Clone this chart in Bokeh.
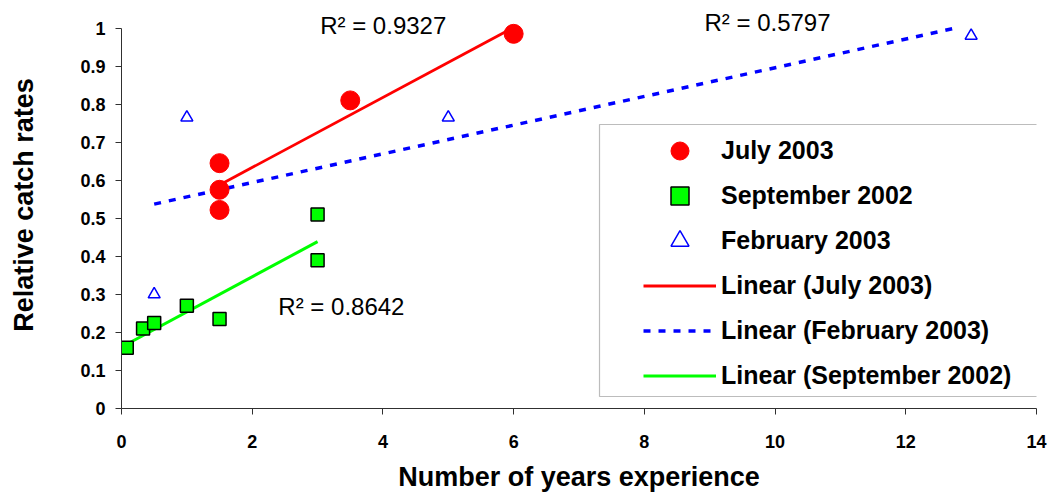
import numpy as np
from bokeh.plotting import figure
from bokeh.models import (Legend, LegendItem, Label, FixedTicker, BoxAnnotation,
                          Range1d, Node)
from bokeh.embed import file_html
from bokeh.resources import INLINE

# ---------------- data ----------------
july_x = [1.5, 1.5, 1.5, 3.5, 6.0]
july_y = [0.645, 0.575, 0.522, 0.81, 0.985]

sept_x = [0.08, 0.33, 0.5, 1.0, 1.5, 3.0, 3.0]
sept_y = [0.16, 0.21, 0.225, 0.27, 0.235, 0.39, 0.51]

feb_x = [0.5, 1.0, 5.0, 13.0]
feb_y = [0.30, 0.765, 0.765, 0.98]

r2_texts = ["R² = 0.9327", "R² = 0.5797", "R² = 0.8642"]
r2_x = [3.04, 8.92, 2.40]
r2_y = [1.008, 1.016, 0.268]

x_ticks = [0, 2, 4, 6, 8, 10, 12, 14]
x_tick_labels = ["0", "2", "4", "6", "8", "10", "12", "14"]
y_ticks = [0, 0.1, 0.2, 0.3, 0.4, 0.5, 0.6, 0.7, 0.8, 0.9, 1]
y_tick_labels = ["0", "0.1", "0.2", "0.3", "0.4", "0.5", "0.6", "0.7", "0.8", "0.9", "1"]

Y_MAX = 1.0  # value axis maximum (trendlines are cut there, as in the original)
FONT = "Liberation Sans"


def trend(xs, ys):
    k, b = np.polyfit(xs, ys, 1)
    x0, x1 = min(xs), max(xs)
    if k > 0 and k * x1 + b > Y_MAX:
        x1 = (Y_MAX - b) / k
    lx = [x0, x1]
    return lx, [k * v + b for v in lx]


p = figure(width=1050, height=494, x_range=Range1d(0, 14), y_range=Range1d(0, 1.07),
           output_backend="svg", toolbar_location=None,
           min_border_left=121, min_border_right=14, min_border_top=1,
           min_border_bottom=81)
p.outline_line_color = None
p.xgrid.visible = False
p.ygrid.visible = False
p.background_fill_color = "white"

for ax in (p.xaxis[0], p.yaxis[0]):
    ax.axis_line_color = "#303030"
    ax.major_tick_line_color = "#303030"
    ax.minor_tick_line_color = None
    ax.major_tick_out = 6
    ax.major_tick_in = 0
    ax.major_label_text_font = FONT
    ax.major_label_text_font_style = "bold"
    ax.major_label_text_font_size = "18px"
    ax.major_label_text_color = "black"
    ax.axis_label_text_font = FONT
    ax.axis_label_text_font_style = "bold"
    ax.axis_label_text_font_size = "27px"
    ax.axis_label_text_color = "black"

p.yaxis[0].bounds = (0, Y_MAX)
p.xaxis[0].ticker = FixedTicker(ticks=x_ticks)
p.xaxis[0].major_label_overrides = dict(zip(x_ticks, x_tick_labels))
p.yaxis[0].ticker = FixedTicker(ticks=y_ticks)
p.yaxis[0].major_label_overrides = dict(zip(y_ticks, y_tick_labels))
p.xaxis[0].axis_label = "Number of years experience"
p.yaxis[0].axis_label = "Relative catch rates"
p.xaxis[0].major_label_standoff = 20
p.yaxis[0].major_label_standoff = 10
p.xaxis[0].axis_label_standoff = 11
p.yaxis[0].axis_label_standoff = 38

# trend lines
jx, jy = trend(july_x, july_y)
fx, fy = trend(feb_x, feb_y)
sx, sy = trend(sept_x, sept_y)
l_july = p.line(jx, jy, line_color="#FF0000", line_width=2.8)
l_feb = p.line(fx, fy, line_color="#0000FF", line_width=3.5, line_dash="7 8")
l_sept = p.line(sx, sy, line_color="#00FF00", line_width=3)

# markers
r_july = p.scatter(july_x, july_y, marker="circle", size=19,
                   fill_color="#FF0000", line_color="#FF0000")
r_sept = p.scatter(sept_x, sept_y, marker="square", size=13,
                   fill_color="#00FF00", line_color="black", line_width=1.5)
r_feb = p.scatter(feb_x, feb_y, marker="triangle", size=12,
                  fill_color=None, line_color="#0000FF", line_width=1.5)

# R^2 labels
for t, x, y in zip(r2_texts, r2_x, r2_y):
    p.add_layout(Label(x=x, y=y, text=t, text_font=FONT, text_font_size="24px",
                       text_baseline="middle", text_color="black"))

# legend frame
frame_box = BoxAnnotation(
    left=Node(target="frame", symbol="left", offset=478),
    right=Node(target="frame", symbol="right", offset=30),
    top=Node(target="frame", symbol="top", offset=123),
    bottom=Node(target="frame", symbol="bottom", offset=-12),
    fill_color="white", fill_alpha=1.0, line_color="#202020", line_width=1.2)
p.add_layout(frame_box)

legend = Legend(items=[
    LegendItem(label="July 2003", renderers=[r_july]),
    LegendItem(label="September 2002", renderers=[r_sept]),
    LegendItem(label="February 2003", renderers=[r_feb]),
    LegendItem(label="Linear (July 2003)", renderers=[l_july]),
    LegendItem(label="Linear (February 2003)", renderers=[l_feb]),
    LegendItem(label="Linear (September 2002)", renderers=[l_sept]),
], location=(520, 8), padding=2, margin=0, spacing=0,
    glyph_width=73, glyph_height=45, label_height=45, label_standoff=5,
    border_line_alpha=0, background_fill_alpha=0,
    label_text_font=FONT, label_text_font_style="bold",
    label_text_font_size="25px", label_text_color="black")
p.add_layout(legend, "center")

open("out.html", "w").write(file_html(p, INLINE))
